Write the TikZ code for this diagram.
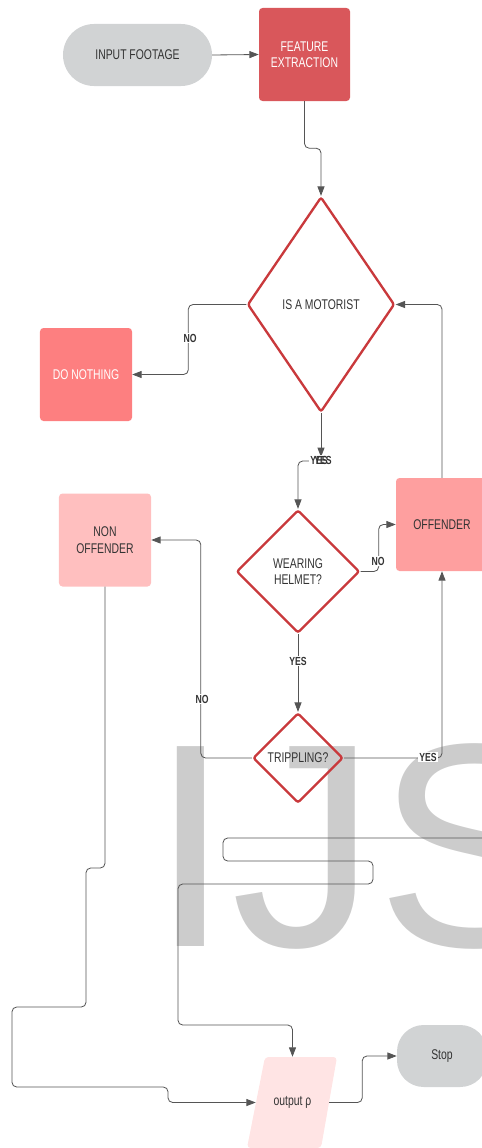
\documentclass[tikz,border=0pt]{standalone}
\usepackage{fontspec}
\setmainfont{Liberation Sans}
\newfontfamily\narrowfont[FakeStretch=0.74]{Liberation Sans}
\usetikzlibrary{arrows.meta,shapes.geometric}
\definecolor{termgrey}{HTML}{D1D3D4}
\definecolor{featred}{HTML}{D9575B}
\definecolor{nothingred}{HTML}{FD7F80}
\definecolor{offpink}{HTML}{FE9F9F}
\definecolor{nonpink}{HTML}{FFBFBF}
\definecolor{outpink}{HTML}{FFE4E4}
\definecolor{decred}{HTML}{C9393C}
\definecolor{wire}{HTML}{555555}
\definecolor{ink}{HTML}{333333}
\definecolor{markgrey}{HTML}{CCCCCC}
\tikzset{
  txt/.style={font=\narrowfont\fontsize{12}{14}\selectfont, text=ink, align=center},
  terminal/.style={txt, rectangle, rounded corners=0.93cm, fill=termgrey, minimum height=1.86cm, inner sep=0pt},
  process/.style={txt, rectangle, rounded corners=3pt, minimum width=2.76cm, minimum height=2.79cm, inner sep=0pt},
  decision/.style={txt, diamond, draw=decred, line width=2pt, rounded corners=2pt, inner sep=0pt},
  wireline/.style={draw=wire, line width=0.7pt, rounded corners=4pt},
  conn/.style={wireline, -{Triangle[length=8pt,width=6pt]}},
  lbl/.style={fill=white, inner sep=1pt, text=ink, font=\narrowfont\bfseries\fontsize{10}{11}\selectfont},
}
\begin{document}
\begin{tikzpicture}[x=0.03cm, y=-0.03cm]
\useasboundingbox (0,0) rectangle (482,1148);
% watermark behind everything
\node[anchor=base west, inner sep=0pt, text=markgrey, font=\fontsize{248}{248}\selectfont] (mark) at (150,946) {IJS};
% slanted output box
\fill[outpink, rounded corners=3pt] (265,1057) -- (337,1057) -- (321,1148) -- (247,1148) -- cycle;

\node[terminal, minimum width=4.47cm] (foot) at (137.5,55) {INPUT FOOTAGE};
\node[process, fill=featred, text=white, minimum width=2.73cm] (feat) at (304.5,54.5) {FEATURE\\EXTRACTION};
\node[decision, minimum width=4.41cm, minimum height=6.45cm] (motor) at (321,304.5) {IS A MOTORIST};
\node[process, fill=nothingred, text=white] (nothing) at (86,374.5) {DO NOTHING};
\node[decision, minimum width=3.69cm, minimum height=3.69cm] (helmet) at (298,571.5) {WEARING\\HELMET?};
\node[process, fill=offpink] (offender) at (442,524.5) {OFFENDER};
\node[process, fill=nonpink] (nonoff) at (105,540) {NON\\OFFENDER};
\node[decision, minimum width=2.7cm, minimum height=2.7cm] (tripple) at (298,758) {TRIPPLING?};
\node[txt, rectangle, minimum width=2.19cm, minimum height=2.73cm, inner sep=0pt] (out) at (292.5,1102.5) {output ρ};
\node[terminal, minimum width=2.7cm, rounded corners=0.8cm] (stop) at (442,1056) {Stop};

\draw[conn] (foot.east) -- (feat.west);
\draw[conn] (feat.south) -- ++(0,47) -| (motor.north);
\draw[conn] (motor.west) -- ++(-58,0) |- (nothing.east);
\node[lbl] (nolbl1) at (190,338) {NO};
\coordinate (yestip) at (321,457);
\coordinate (yestail) at (314,461);
\draw[conn] (motor.south) -- (yestip);
\draw[conn] (yestail) -| (helmet.north);
\node[lbl] (yeslbl1) at (319,460) {YES};
\node[lbl, fill=none] (yeslbl2) at (323,460) {YES};
\draw[conn] (helmet.east) -- ++(18,0) |- (offender.west);
\node[lbl] (nolbl2) at (378,561) {NO};
\draw[conn] (offender.north) |- (motor.east);
\draw[conn] (helmet.south) -- (tripple.north);
\node[lbl] (yeslbl3) at (298,661) {YES};
\draw[conn] (tripple.west) -- ++(-51,0) |- (nonoff.east);
\node[lbl] (nolbl3) at (202,699) {NO};
\draw[conn] (tripple.east) -| (offender.south);
\node[lbl] (yeslbl4) at (428,757) {YES};
\draw[conn] (nonoff.south) -- (105,868) -| (86,1007) -| (12,1087) -| (168,1102.5) -- (out.west);
\coordinate (edge) at (482,838);
\draw[conn] (edge) -| (223,861) -| (373,884) -| (178,1025) -| (out.north);
\draw[conn] (out.east) -- ++(33,0) |- (stop.west);
\end{tikzpicture}
\end{document}
